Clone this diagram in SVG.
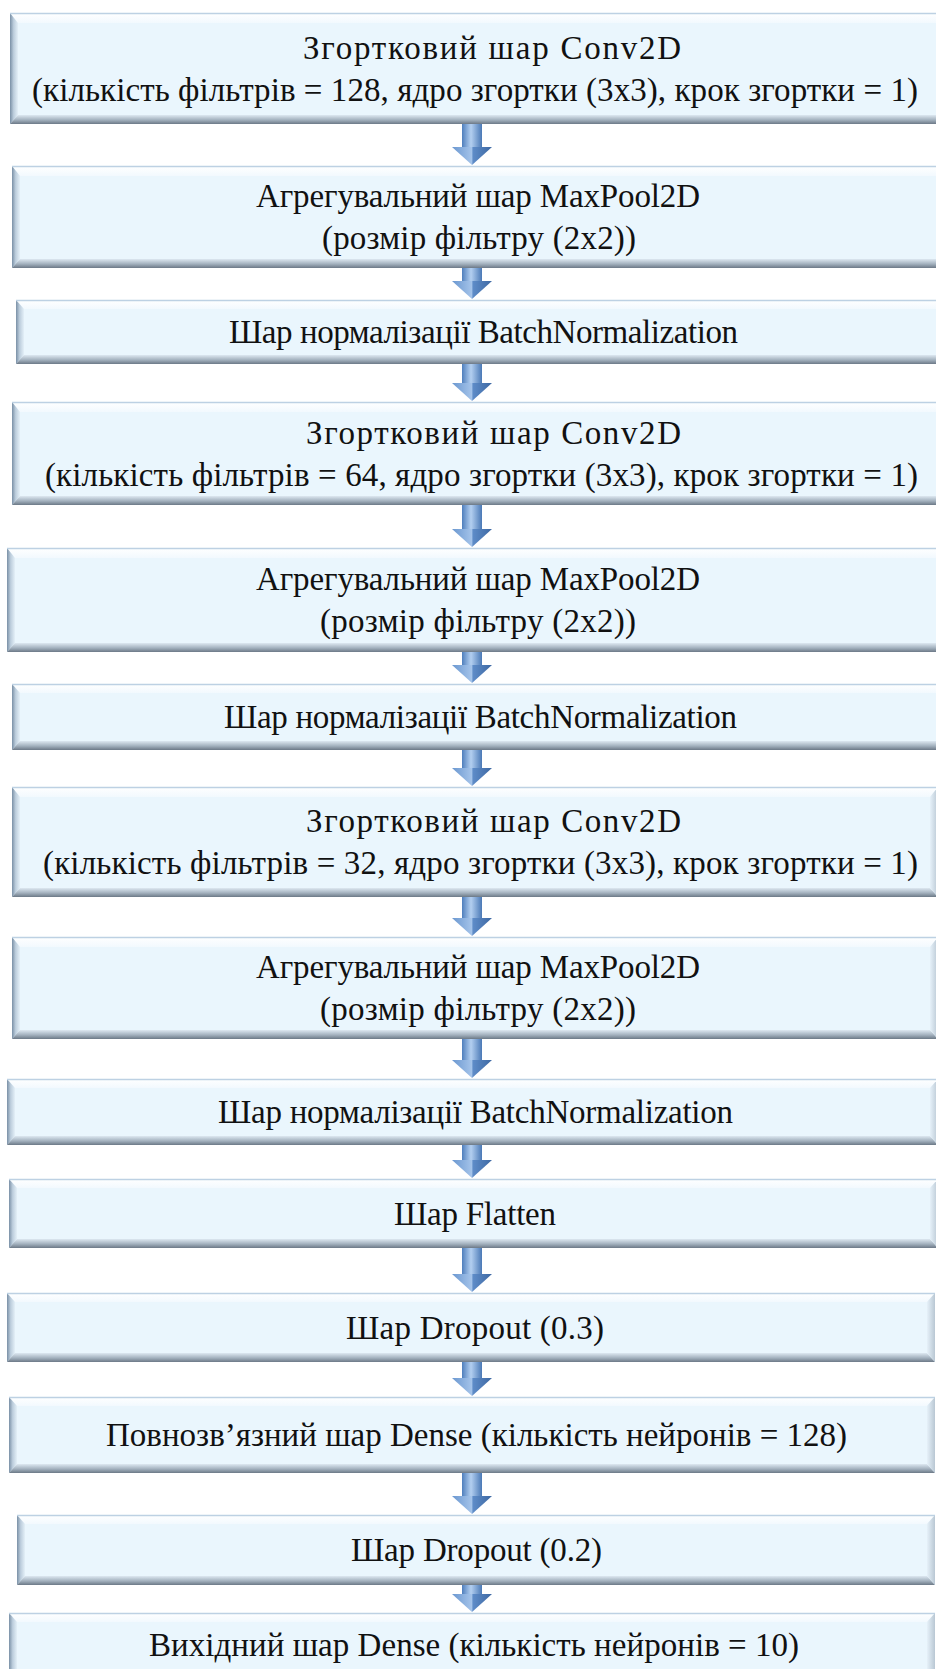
<svg xmlns="http://www.w3.org/2000/svg" width="936" height="1669" viewBox="0 0 936 1669">
<defs>
<linearGradient id="gTop" x1="0" y1="0" x2="0" y2="1"><stop offset="0" stop-color="#ffffff"/><stop offset="1" stop-color="#f2f9fe"/></linearGradient>
<linearGradient id="gBot" x1="0" y1="0" x2="0" y2="1"><stop offset="0" stop-color="#dde8f1"/><stop offset="0.55" stop-color="#a3b1be"/><stop offset="1" stop-color="#6c7987"/></linearGradient>
<linearGradient id="gLeft" x1="0" y1="0" x2="1" y2="0"><stop offset="0" stop-color="#7a90a6"/><stop offset="0.45" stop-color="#bccddc"/><stop offset="1" stop-color="#e4f0f8"/></linearGradient>
<linearGradient id="gRight" x1="0" y1="0" x2="1" y2="0"><stop offset="0" stop-color="#e6f1f9"/><stop offset="1" stop-color="#b9c7d3"/></linearGradient>
<linearGradient id="gShaft" x1="0" y1="0" x2="1" y2="0"><stop offset="0" stop-color="#4f7fbd"/><stop offset="0.45" stop-color="#b3cff0"/><stop offset="1" stop-color="#4a79b6"/></linearGradient>
<linearGradient id="gHead" x1="0" y1="0" x2="1" y2="0"><stop offset="0" stop-color="#6a97d0"/><stop offset="0.5" stop-color="#a5c4ea"/><stop offset="0.52" stop-color="#5e8cc8"/><stop offset="1" stop-color="#3d68a3"/></linearGradient>
</defs>
<style>
.face{fill:#eaf6fd}
.bt{fill:url(#gTop)}
.bb{fill:url(#gBot)}
.bl{fill:url(#gLeft)}
.br{fill:url(#gRight)}
.edge{stroke:#bdd1e3;stroke-width:1.5}
.t{font-family:"Liberation Serif","Times New Roman",serif;font-size:33px;fill:#111111}
.shaft{fill:url(#gShaft)}
.head{fill:url(#gHead)}
</style>

<g id="connectors">
<rect class="shaft" x="462" y="122" width="20" height="25"/><polygon class="head" points="452,147 492,147 472,165"/>
<rect class="shaft" x="462" y="266" width="20" height="15"/><polygon class="head" points="452,281 492,281 472,299"/>
<rect class="shaft" x="462" y="362" width="20" height="21"/><polygon class="head" points="452,383 492,383 472,401"/>
<rect class="shaft" x="462" y="503" width="20" height="26"/><polygon class="head" points="452,529 492,529 472,547"/>
<rect class="shaft" x="462" y="650" width="20" height="15"/><polygon class="head" points="452,665 492,665 472,683"/>
<rect class="shaft" x="462" y="748" width="20" height="20"/><polygon class="head" points="452,768 492,768 472,786"/>
<rect class="shaft" x="462" y="895" width="20" height="23"/><polygon class="head" points="452,918 492,918 472,936"/>
<rect class="shaft" x="462" y="1037" width="20" height="23"/><polygon class="head" points="452,1060 492,1060 472,1078"/>
<rect class="shaft" x="462" y="1143" width="20" height="17"/><polygon class="head" points="452,1160 492,1160 472,1178"/>
<rect class="shaft" x="462" y="1246" width="20" height="28"/><polygon class="head" points="452,1274 492,1274 472,1292"/>
<rect class="shaft" x="462" y="1360" width="20" height="18"/><polygon class="head" points="452,1378 492,1378 472,1396"/>
<rect class="shaft" x="462" y="1471" width="20" height="25"/><polygon class="head" points="452,1496 492,1496 472,1514"/>
<rect class="shaft" x="462" y="1575" width="20" height="19"/><polygon class="head" points="452,1594 492,1594 472,1612"/>
</g>

<g id="n1">
<rect class="face" x="10" y="13" width="936" height="111"/>
<polygon class="bt" points="10,13 946,13 938,23 18,23"/>
<polygon class="bl" points="10,13 18,23 18,115 10,124"/>
<polygon class="bb" points="10,124 18,115 938,115 946,124"/>
<line class="edge" x1="10" y1="13.5" x2="936" y2="13.5"/>
<text class="t" x="303" y="59" textLength="378" lengthAdjust="spacing">Згортковий шар Conv2D</text>
<text class="t" x="32" y="101" textLength="886" lengthAdjust="spacing">(кількість фільтрів = 128, ядро згортки (3x3), крок згортки = 1)</text>
</g>

<g id="n2">
<rect class="face" x="12" y="166" width="934" height="102"/>
<polygon class="bt" points="12,166 946,166 938,176 20,176"/>
<polygon class="bl" points="12,166 20,176 20,259 12,268"/>
<polygon class="bb" points="12,268 20,259 938,259 946,268"/>
<line class="edge" x1="12" y1="166.5" x2="936" y2="166.5"/>
<text class="t" x="256" y="207" textLength="444" lengthAdjust="spacing">Агрегувальний шар MaxPool2D</text>
<text class="t" x="322" y="249" textLength="314" lengthAdjust="spacing">(розмір фільтру (2x2))</text>
</g>

<g id="n3">
<rect class="face" x="16" y="300" width="930" height="64"/>
<polygon class="bt" points="16,300 946,300 938,309 24,309"/>
<polygon class="bl" points="16,300 24,309 24,355 16,364"/>
<polygon class="bb" points="16,364 24,355 938,355 946,364"/>
<line class="edge" x1="16" y1="300.5" x2="936" y2="300.5"/>
<text class="t" x="229" y="343" textLength="509" lengthAdjust="spacing">Шар нормалізації  BatchNormalization</text>
</g>

<g id="n4">
<rect class="face" x="12" y="402" width="934" height="103"/>
<polygon class="bt" points="12,402 946,402 938,412 20,412"/>
<polygon class="bl" points="12,402 20,412 20,496 12,505"/>
<polygon class="bb" points="12,505 20,496 938,496 946,505"/>
<line class="edge" x1="12" y1="402.5" x2="936" y2="402.5"/>
<text class="t" x="306" y="444" textLength="375" lengthAdjust="spacing">Згортковий шар Conv2D</text>
<text class="t" x="45" y="486" textLength="873" lengthAdjust="spacing">(кількість фільтрів = 64, ядро згортки (3x3), крок згортки = 1)</text>
</g>

<g id="n5">
<rect class="face" x="7" y="548" width="939" height="104"/>
<polygon class="bt" points="7,548 946,548 938,558 15,558"/>
<polygon class="bl" points="7,548 15,558 15,643 7,652"/>
<polygon class="bb" points="7,652 15,643 938,643 946,652"/>
<line class="edge" x1="7" y1="548.5" x2="936" y2="548.5"/>
<text class="t" x="256" y="590" textLength="444" lengthAdjust="spacing">Агрегувальний шар MaxPool2D</text>
<text class="t" x="320" y="632" textLength="316" lengthAdjust="spacing">(розмір фільтру (2x2))</text>
</g>

<g id="n6">
<rect class="face" x="12" y="684" width="934" height="66"/>
<polygon class="bt" points="12,684 946,684 938,693 20,693"/>
<polygon class="bl" points="12,684 20,693 20,741 12,750"/>
<polygon class="bb" points="12,750 20,741 938,741 946,750"/>
<line class="edge" x1="12" y1="684.5" x2="936" y2="684.5"/>
<text class="t" x="224" y="728" textLength="513" lengthAdjust="spacing">Шар нормалізації  BatchNormalization</text>
</g>

<g id="n7">
<rect class="face" x="12" y="787" width="926" height="110"/>
<polygon class="bt" points="12,787 938,787 930,797 20,797"/>
<polygon class="bl" points="12,787 20,797 20,888 12,897"/>
<polygon class="bb" points="12,897 20,888 930,888 938,897"/>
<polygon class="br" points="938,787 938,897 930,888 930,797"/>
<line class="edge" x1="12" y1="787.5" x2="936" y2="787.5"/>
<text class="t" x="306" y="832" textLength="375" lengthAdjust="spacing">Згортковий шар Conv2D</text>
<text class="t" x="43" y="874" textLength="875" lengthAdjust="spacing">(кількість фільтрів = 32, ядро згортки (3x3), крок згортки = 1)</text>
</g>

<g id="n8">
<rect class="face" x="12" y="937" width="926" height="102"/>
<polygon class="bt" points="12,937 938,937 930,947 20,947"/>
<polygon class="bl" points="12,937 20,947 20,1030 12,1039"/>
<polygon class="bb" points="12,1039 20,1030 930,1030 938,1039"/>
<polygon class="br" points="938,937 938,1039 930,1030 930,947"/>
<line class="edge" x1="12" y1="937.5" x2="936" y2="937.5"/>
<text class="t" x="256" y="978" textLength="444" lengthAdjust="spacing">Агрегувальний шар MaxPool2D</text>
<text class="t" x="320" y="1020" textLength="316" lengthAdjust="spacing">(розмір фільтру (2x2))</text>
</g>

<g id="n9">
<rect class="face" x="7" y="1079" width="931" height="66"/>
<polygon class="bt" points="7,1079 938,1079 930,1088 15,1088"/>
<polygon class="bl" points="7,1079 15,1088 15,1136 7,1145"/>
<polygon class="bb" points="7,1145 15,1136 930,1136 938,1145"/>
<polygon class="br" points="938,1079 938,1145 930,1136 930,1088"/>
<line class="edge" x1="7" y1="1079.5" x2="936" y2="1079.5"/>
<text class="t" x="218" y="1123" textLength="515" lengthAdjust="spacing">Шар нормалізації  BatchNormalization</text>
</g>

<g id="n10">
<rect class="face" x="9" y="1179" width="929" height="69"/>
<polygon class="bt" points="9,1179 938,1179 930,1188 17,1188"/>
<polygon class="bl" points="9,1179 17,1188 17,1239 9,1248"/>
<polygon class="bb" points="9,1248 17,1239 930,1239 938,1248"/>
<polygon class="br" points="938,1179 938,1248 930,1239 930,1188"/>
<line class="edge" x1="9" y1="1179.5" x2="936" y2="1179.5"/>
<text class="t" x="394" y="1225" textLength="162" lengthAdjust="spacing">Шар Flatten</text>
</g>

<g id="n11">
<rect class="face" x="7" y="1293" width="928" height="69"/>
<polygon class="bt" points="7,1293 935,1293 927,1302 15,1302"/>
<polygon class="bl" points="7,1293 15,1302 15,1353 7,1362"/>
<polygon class="bb" points="7,1362 15,1353 927,1353 935,1362"/>
<polygon class="br" points="935,1293 935,1362 927,1353 927,1302"/>
<line class="edge" x1="7" y1="1293.5" x2="935" y2="1293.5"/>
<text class="t" x="346" y="1339" textLength="258" lengthAdjust="spacing">Шар Dropout (0.3)</text>
</g>

<g id="n12">
<rect class="face" x="9" y="1397" width="926" height="76"/>
<polygon class="bt" points="9,1397 935,1397 927,1406 17,1406"/>
<polygon class="bl" points="9,1397 17,1406 17,1464 9,1473"/>
<polygon class="bb" points="9,1473 17,1464 927,1464 935,1473"/>
<polygon class="br" points="935,1397 935,1473 927,1464 927,1406"/>
<line class="edge" x1="9" y1="1397.5" x2="935" y2="1397.5"/>
<text class="t" x="106" y="1446" textLength="741" lengthAdjust="spacing">Повнозв’язний шар Dense (кількість нейронів  = 128)</text>
</g>

<g id="n13">
<rect class="face" x="17" y="1515" width="918" height="70"/>
<polygon class="bt" points="17,1515 935,1515 927,1524 25,1524"/>
<polygon class="bl" points="17,1515 25,1524 25,1576 17,1585"/>
<polygon class="bb" points="17,1585 25,1576 927,1576 935,1585"/>
<polygon class="br" points="935,1515 935,1585 927,1576 927,1524"/>
<line class="edge" x1="17" y1="1515.5" x2="935" y2="1515.5"/>
<text class="t" x="351" y="1561" textLength="251" lengthAdjust="spacing">Шар Dropout (0.2)</text>
</g>

<g id="n14">
<rect class="face" x="9" y="1613" width="926" height="66"/>
<polygon class="bt" points="9,1613 935,1613 927,1622 17,1622"/>
<polygon class="bl" points="9,1613 17,1622 17,1679 9,1679"/>
<polygon class="br" points="935,1613 935,1679 927,1679 927,1622"/>
<line class="edge" x1="9" y1="1613.5" x2="935" y2="1613.5"/>
<text class="t" x="149" y="1656" textLength="650" lengthAdjust="spacing">Вихідний  шар Dense (кількість нейронів  = 10)</text>
</g>
</svg>
